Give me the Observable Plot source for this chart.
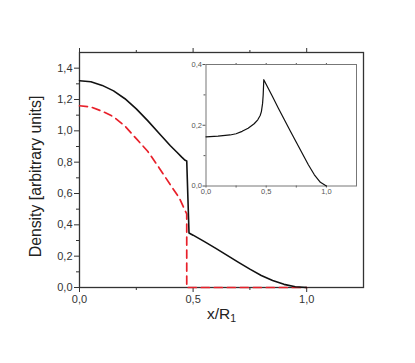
<!DOCTYPE html>
<html><head><meta charset="utf-8">
<script src="https://cdn.jsdelivr.net/npm/d3@7"></script>
<script src="https://cdn.jsdelivr.net/npm/@observablehq/plot@0.6"></script>
<style>
body{margin:0;background:#fff;}
#wrap{position:relative;width:415px;height:363px;overflow:hidden;background:#fff;}
#wrap svg{position:absolute;left:0;top:0;}
</style></head><body><div id="wrap"></div>
<script>
// Main chart: black solid curve
const blackX = [0, 0.05, 0.1, 0.15, 0.2, 0.25, 0.3, 0.35, 0.4, 0.43, 0.45, 0.465, 0.472, 0.482, 0.5, 0.55, 0.6, 0.65, 0.7, 0.75, 0.8, 0.85, 0.9, 0.95, 1.0];
const blackY = [1.32, 1.313, 1.29, 1.255, 1.205, 1.14, 1.065, 0.985, 0.905, 0.862, 0.832, 0.812, 0.808, 0.348, 0.334, 0.293, 0.25, 0.205, 0.16, 0.117, 0.077, 0.045, 0.02, 0.005, 0];
// Main chart: red dashed curve
const redX = [0, 0.05, 0.1, 0.15, 0.2, 0.25, 0.3, 0.35, 0.4, 0.44, 0.465, 0.472, 0.472, 1.0];
const redY = [1.16, 1.152, 1.125, 1.09, 1.03, 0.95, 0.87, 0.765, 0.655, 0.57, 0.49, 0.47, 0, 0];
// Inset curve
const insetX = [0, 0.1, 0.2, 0.25, 0.3, 0.35, 0.4, 0.43, 0.45, 0.46, 0.47, 0.475, 0.48, 0.55, 0.6, 0.65, 0.7, 0.75, 0.8, 0.85, 0.9, 0.95, 1.0];
const insetY = [0.162, 0.164, 0.168, 0.172, 0.18, 0.19, 0.205, 0.218, 0.232, 0.245, 0.272, 0.30, 0.35, 0.296, 0.257, 0.219, 0.181, 0.144, 0.107, 0.07, 0.037, 0.012, 0];

// Ticks
const mainYTicks = [0, 0.2, 0.4, 0.6, 0.8, 1.0, 1.2, 1.4];
const mainYMinor = [0.1, 0.3, 0.5, 0.7, 0.9, 1.1, 1.3];
const mainXTicks = [0, 0.5, 1.0];
const mainXMinor = [0.25, 0.75];
const insetYTicks = [0, 0.2, 0.4];
const insetYMinor = [0.1, 0.3];
const insetXTicks = [0, 0.5, 1.0];
const insetXMinor = [0.25, 0.75];
const insetTopTicks = [0.25, 0.5, 0.75, 1.0];

const yTitle = "Density [arbitrary units]";
const xTitle = "x/R1";

const blackData = blackX.map((x, i) => ({x, y: blackY[i]}));
const redData = redX.map((x, i) => ({x, y: redY[i]}));
const insetData = insetX.map((x, i) => ({x, y: insetY[i]}));

const fmt = d => d3.format(".1f")(d).replace(".", ",");
const blank = () => "";
const font = "'Liberation Sans', Arial, Helvetica, sans-serif";

const main = Plot.plot({
  width: 415, height: 363,
  marginLeft: 79, marginRight: 52, marginTop: 52, marginBottom: 76,
  x: {domain: [0, 1.25]},
  y: {domain: [0, 1.5]},
  style: {fontFamily: font, fontSize: "11px", color: "#333", background: "transparent"},
  marks: [
    Plot.axisY({ticks: mainYTicks, tickSize: 5, tickPadding: 2, tickFormat: fmt, label: null, letterSpacing: "0.6px"}),
    Plot.axisY({ticks: mainYMinor, tickSize: 3, tickFormat: blank, label: null}),
    Plot.axisX({ticks: mainXTicks, tickSize: 5, tickPadding: 3, tickFormat: fmt, label: null, letterSpacing: "0.6px"}),
    Plot.axisX({ticks: mainXMinor, tickSize: 3, tickFormat: blank, label: null}),
    Plot.axisX({anchor: "top", ticks: mainXTicks, tickSize: 5, tickFormat: blank, label: null}),
    Plot.axisX({anchor: "top", ticks: mainXMinor, tickSize: 3, tickFormat: blank, label: null}),
    Plot.frame({stroke: "#333", strokeWidth: 1.3}),
    Plot.line(redData, {x: "x", y: "y", stroke: "#e8202a", strokeWidth: 1.7, strokeDasharray: "8,5"}),
    Plot.line(blackData, {x: "x", y: "y", stroke: "#111", strokeWidth: 1.6}),
    Plot.text([yTitle], {frameAnchor: "left", textAnchor: "middle", dx: -43.5, dy: 6.5, rotate: -90, fontSize: 15.8, fill: "#222"}),
    Plot.text([xTitle], {frameAnchor: "bottom", textAnchor: "middle", dy: 31, fontSize: 15.5, fill: "#222"})
  ]
});

const inset = Plot.plot({
  width: 415, height: 363,
  marginLeft: 205.5, marginRight: 59, marginTop: 64, marginBottom: 177.5,
  x: {domain: [0, 1.25]},
  y: {domain: [0, 0.4]},
  style: {fontFamily: font, fontSize: "7.5px", color: "#555", background: "transparent"},
  marks: [
    Plot.axisY({ticks: insetYTicks, tickSize: 3, tickPadding: 1, tickFormat: fmt, label: null}),
    Plot.axisY({ticks: insetYMinor, tickSize: 2, tickFormat: blank, label: null}),
    Plot.axisX({ticks: insetXTicks, tickSize: 2, tickPadding: 1, tickFormat: fmt, label: null}),
    Plot.axisX({ticks: insetXMinor, tickSize: 2, tickFormat: blank, label: null}),
    Plot.axisX({anchor: "top", ticks: insetTopTicks, tickSize: 2, tickFormat: blank, label: null}),
    Plot.frame({stroke: "#777", strokeWidth: 1}),
    Plot.line(insetData, {x: "x", y: "y", stroke: "#111", strokeWidth: 1.2})
  ]
});

const wrap = document.getElementById("wrap");
wrap.appendChild(main);
wrap.appendChild(inset);

// subscript for x/R1
d3.select(main).selectAll("text").filter(function() { return this.textContent === xTitle; }).each(function() {
  const t = d3.select(this);
  t.text("x/R");
  t.append("tspan").attr("dy", "0.35em").attr("font-size", "0.68em").text("1");
});
</script>
</body></html>
